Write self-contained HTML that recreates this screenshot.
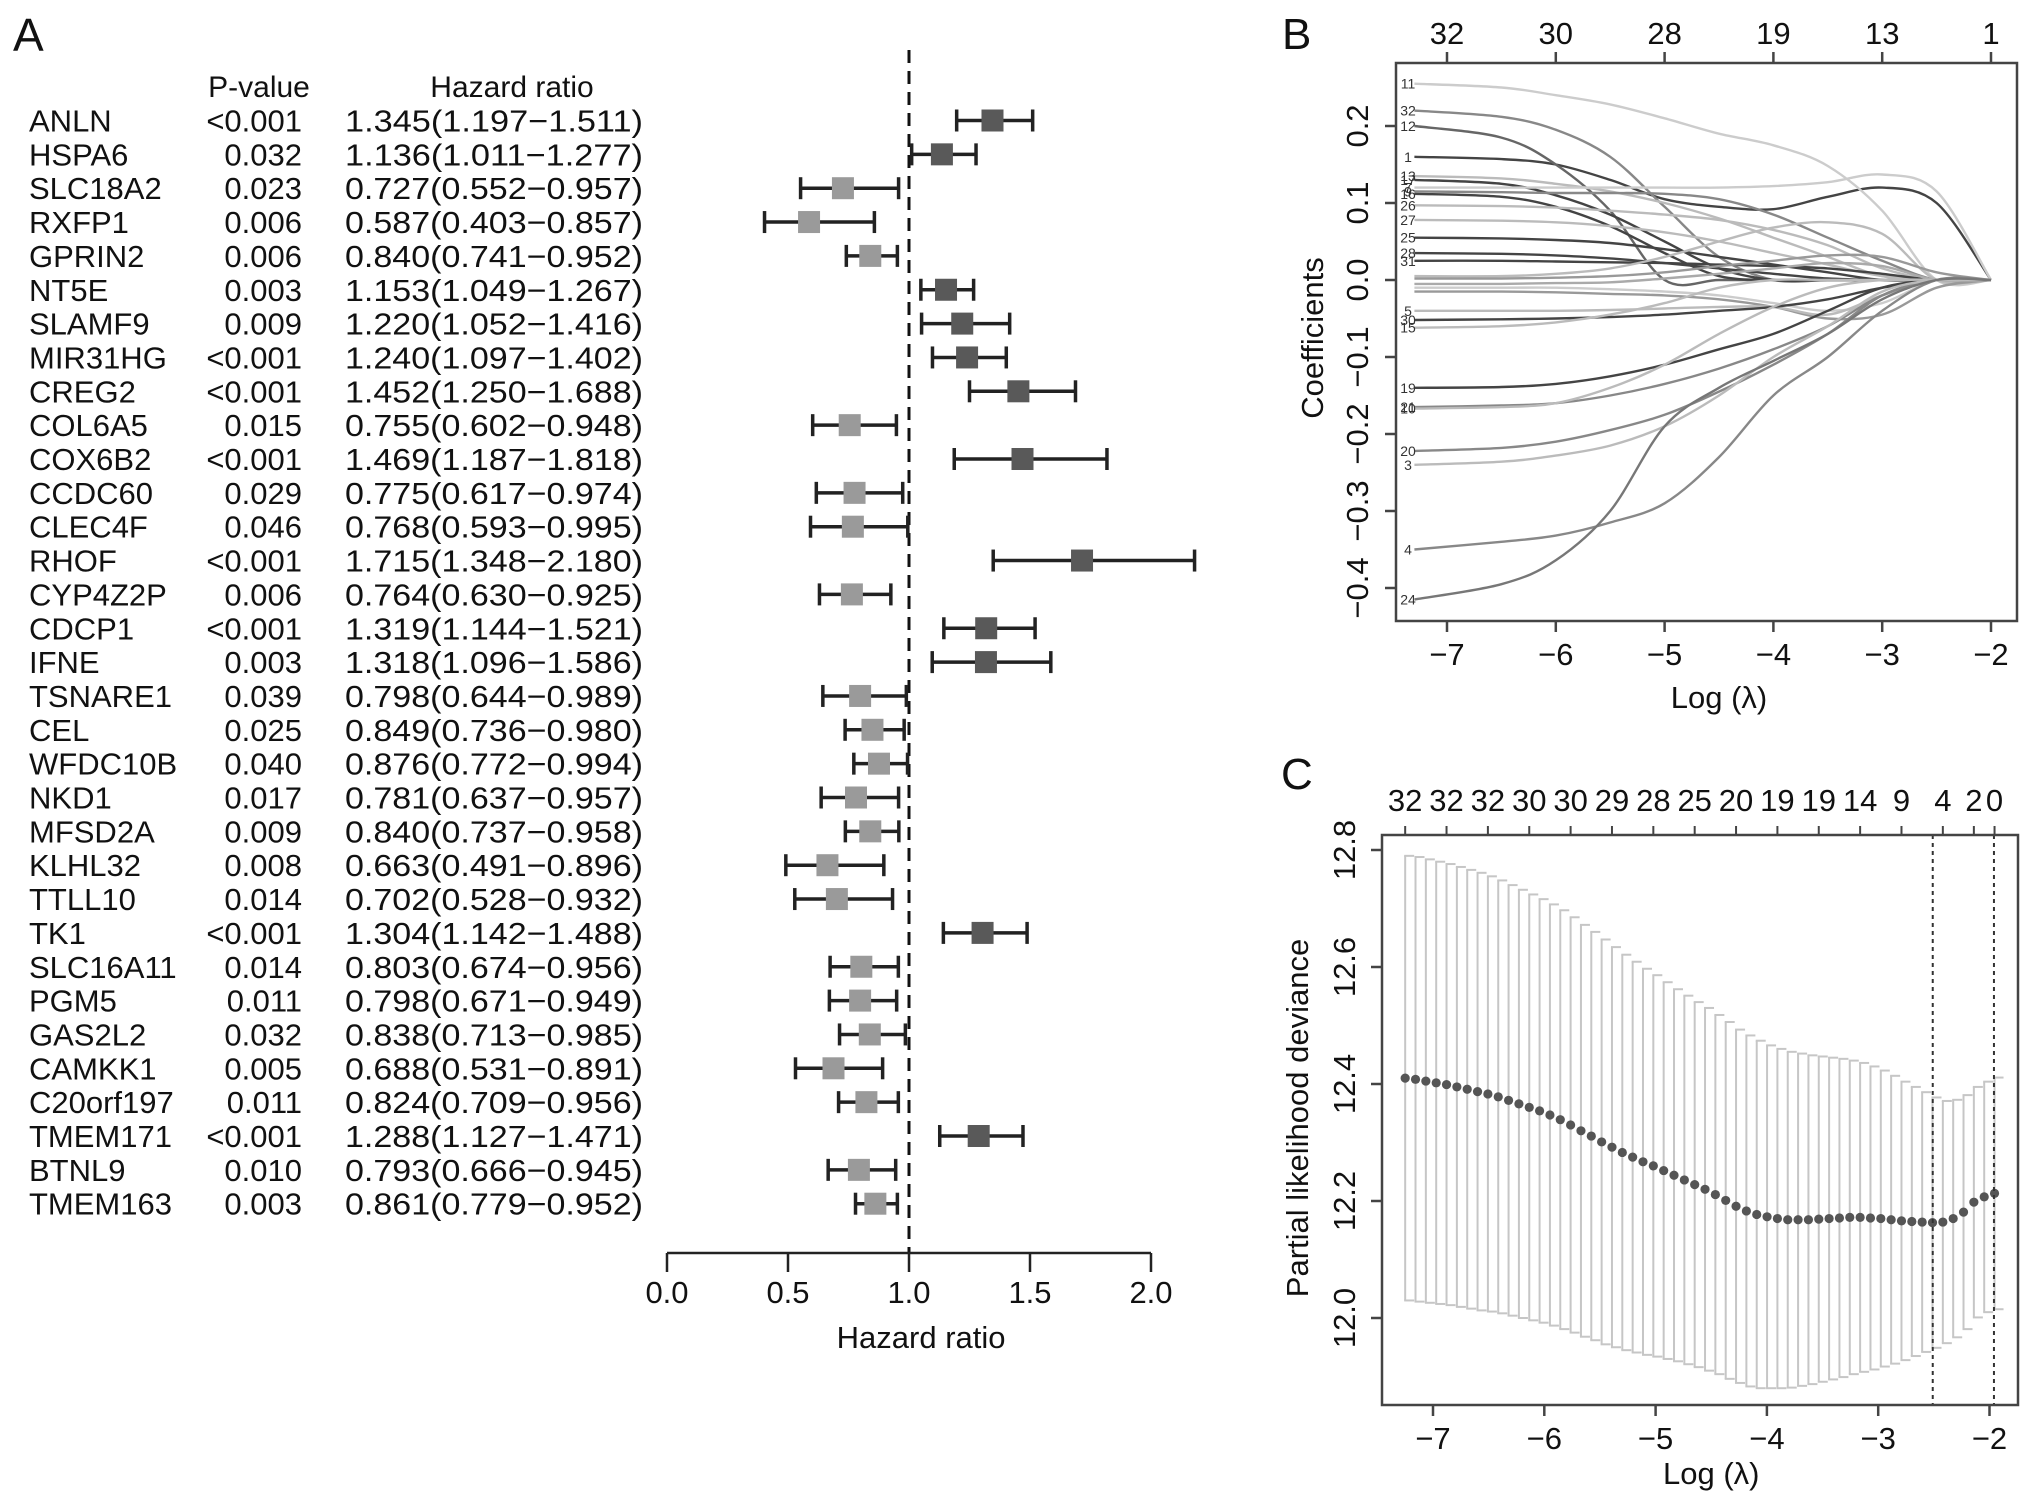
<!DOCTYPE html>
<html><head><meta charset="utf-8"><style>
html,body{margin:0;padding:0;background:#fff}
svg{display:block;font-family:"Liberation Sans",Arial,sans-serif}
</style></head><body>
<svg id="fig" width="2032" height="1501" viewBox="0 0 2032 1501" xmlns="http://www.w3.org/2000/svg">
<rect width="2032" height="1501" fill="#fff"/>
<g id="panelA"></g>
<g id="panelB"></g>
<g id="panelC"></g>
</svg>
<script>
// ---------- Panel A data ----------
const genes = ["ANLN","HSPA6","SLC18A2","RXFP1","GPRIN2","NT5E","SLAMF9","MIR31HG","CREG2","COL6A5","COX6B2","CCDC60","CLEC4F","RHOF","CYP4Z2P","CDCP1","IFNE","TSNARE1","CEL","WFDC10B","NKD1","MFSD2A","KLHL32","TTLL10","TK1","SLC16A11","PGM5","GAS2L2","CAMKK1","C20orf197","TMEM171","BTNL9","TMEM163"];
const pvals = ["<0.001","0.032","0.023","0.006","0.006","0.003","0.009","<0.001","<0.001","0.015","<0.001","0.029","0.046","<0.001","0.006","<0.001","0.003","0.039","0.025","0.040","0.017","0.009","0.008","0.014","<0.001","0.014","0.011","0.032","0.005","0.011","<0.001","0.010","0.003"];
const hr = [1.345,1.136,0.727,0.587,0.840,1.153,1.220,1.240,1.452,0.755,1.469,0.775,0.768,1.715,0.764,1.319,1.318,0.798,0.849,0.876,0.781,0.840,0.663,0.702,1.304,0.803,0.798,0.838,0.688,0.824,1.288,0.793,0.861];
const lo = [1.197,1.011,0.552,0.403,0.741,1.049,1.052,1.097,1.250,0.602,1.187,0.617,0.593,1.348,0.630,1.144,1.096,0.644,0.736,0.772,0.637,0.737,0.491,0.528,1.142,0.674,0.671,0.713,0.531,0.709,1.127,0.666,0.779];
const hi = [1.511,1.277,0.957,0.857,0.952,1.267,1.416,1.402,1.688,0.948,1.818,0.974,0.995,2.180,0.925,1.521,1.586,0.989,0.980,0.994,0.957,0.958,0.896,0.932,1.488,0.956,0.949,0.985,0.891,0.956,1.471,0.945,0.952];
const hrTicks = [0,0.5,1.0,1.5,2.0];

// ---------- Panel B data ----------
const bGrid = [-7.3,-6.5,-6,-5.5,-5,-4.5,-4,-3.5,-3,-2.5,-2];
const bLabels = ["1","11","32","12","13","17","7","9","16","26","27","25","28","31","","","","","","5","30","15","19","21","10","20","3","4","24"];
const bShades = ["#444","#ccc","#888","#666","#bbb","#444","#ccc","#888","#444","#bbb","#bbb","#444","#444","#444","#bbb","#999","#aaa","#ccc","#999","#bbb","#444","#bbb","#444","#888","#bbb","#888","#bbb","#888","#777"];
const b1=[0.160,0.157,0.150,0.130,0.105,0.095,0.092,0.108,0.120,0.100,0];
const b11=[0.255,0.250,0.240,0.228,0.210,0.190,0.175,0.148,0.090,0,0];
const b32=[0.220,0.212,0.195,0.160,0.095,0.030,0,0,0,0,0];
const b12=[0.200,0.185,0.150,0.090,0,0,0,0,0,0,0];
const b13=[0.135,0.132,0.125,0.115,0.100,0.080,0.055,0.030,0.005,0,0];
const b17=[0.130,0.125,0.110,0.085,0.050,0.015,0,0,0,0,0];
const b7=[0.120,0.120,0.120,0.120,0.120,0.120,0.122,0.127,0.137,0.115,0];
const b9=[0.115,0.114,0.113,0.113,0.112,0.105,0.085,0.055,0.025,0,0];
const b16=[0.112,0.108,0.095,0.070,0.035,0.005,0,0,0,0,0];
const b26=[0.097,0.096,0.094,0.090,0.085,0.078,0.065,0.045,0.015,0,0];
const b27=[0.078,0.077,0.075,0.070,0.062,0.050,0.035,0.020,0.005,0,0];
const b25=[0.055,0.054,0.052,0.048,0.040,0.030,0.020,0.010,0,0,0];
const b28=[0.035,0.034,0.032,0.028,0.022,0.015,0.008,0.002,0,0,0];
const b31=[0.025,0.025,0.024,0.023,0.022,0.020,0.018,0.015,0.008,0,0];
const bA=[0.005,0.005,0.008,0.015,0.030,0.050,0.068,0.075,0.060,0,0];
const bB=[0.002,0.002,0.003,0.005,0.010,0.018,0.025,0.032,0.030,0.010,0];
const bC=[-0.005,-0.005,-0.004,-0.003,0.002,0.008,0.015,0.022,0.018,0,0];
const bD=[-0.010,-0.010,-0.010,-0.012,-0.015,-0.020,-0.030,-0.040,-0.030,0,0];
const bE=[-0.015,-0.015,-0.016,-0.018,-0.020,-0.025,-0.035,-0.050,-0.045,-0.010,0];
const b5=[-0.040,-0.040,-0.040,-0.039,-0.037,-0.035,-0.035,-0.045,-0.020,0,0];
const b30=[-0.052,-0.051,-0.050,-0.048,-0.045,-0.040,-0.035,-0.025,-0.010,0,0];
const b15=[-0.062,-0.060,-0.055,-0.045,-0.030,-0.010,0,0,0,0,0];
const b19=[-0.140,-0.139,-0.135,-0.125,-0.110,-0.090,-0.070,-0.040,-0.010,0,0];
const b21=[-0.165,-0.163,-0.160,-0.150,-0.135,-0.115,-0.090,-0.060,-0.020,0,0];
const b10=[-0.167,-0.165,-0.160,-0.140,-0.110,-0.070,-0.035,-0.010,0,0,0];
const b20=[-0.222,-0.218,-0.210,-0.195,-0.175,-0.145,-0.110,-0.070,-0.020,0,0];
const b3=[-0.240,-0.236,-0.228,-0.215,-0.190,-0.150,-0.100,-0.060,-0.015,0,0];
const b4=[-0.350,-0.340,-0.332,-0.315,-0.290,-0.230,-0.150,-0.100,-0.040,0,0];
const b24=[-0.415,-0.395,-0.364,-0.300,-0.190,-0.140,-0.105,-0.070,-0.025,0,0];
const bSeries=[b1,b11,b32,b12,b13,b17,b7,b9,b16,b26,b27,b25,b28,b31,bA,bB,bC,bD,bE,b5,b30,b15,b19,b21,b10,b20,b3,b4,b24];
const bXTicks=[-7,-6,-5,-4,-3,-2];
const bTopLabels=["32","30","28","19","13","1"];
const bYTicks=[0.2,0.1,0.0,-0.1,-0.2,-0.3,-0.4];

// ---------- Panel C data ----------
const cLogLambda0 = -7.25, cStep = 0.0929;
const cMean=[12.410,12.408,12.405,12.402,12.399,12.395,12.391,12.387,12.383,12.378,12.372,12.366,12.360,12.354,12.347,12.339,12.330,12.320,12.311,12.301,12.292,12.283,12.275,12.267,12.260,12.252,12.244,12.236,12.228,12.220,12.211,12.201,12.191,12.183,12.177,12.173,12.170,12.168,12.168,12.168,12.169,12.170,12.171,12.172,12.172,12.171,12.170,12.168,12.166,12.165,12.164,12.163,12.164,12.170,12.181,12.198,12.207,12.213];
const cSd=[0.380,0.380,0.379,0.378,0.377,0.376,0.375,0.374,0.372,0.370,0.368,0.366,0.364,0.362,0.360,0.358,0.355,0.352,0.349,0.346,0.342,0.338,0.334,0.330,0.326,0.322,0.318,0.315,0.312,0.310,0.307,0.305,0.302,0.300,0.297,0.293,0.290,0.287,0.284,0.281,0.278,0.275,0.272,0.268,0.264,0.259,0.253,0.246,0.238,0.230,0.222,0.214,0.207,0.203,0.200,0.197,0.197,0.198];
const cTopIdx=[0,4,8,12,16,20,24,28,32,36,40,44,48,52,55,57];
const cTopLabels=["32","32","32","30","30","29","28","25","20","19","19","14","9","4","2","0"];
const cVlines=[-2.51,-1.96];
const cXTicks=[-7,-6,-5,-4,-3,-2];
const cYTicks=[12.0,12.2,12.4,12.6,12.8];

const NS="http://www.w3.org/2000/svg";
function mk(parent,tag,attrs,text){const e=document.createElementNS(NS,tag);for(const k in attrs)e.setAttribute(k,attrs[k]);if(text!==undefined)e.textContent=text;parent.appendChild(e);return e;}

// ================= Panel A =================
const A=document.getElementById('panelA');
const hx=v=>667+v*242;
const rowY=i=>120.5+i*33.85;
let t;
t=mk(A,'text',{x:13,y:51,'font-size':46,fill:'#111'},'A');


t=mk(A,'text',{x:259,y:97,'font-size':30,'text-anchor':'middle',fill:'#111'},'P-value');


t=mk(A,'text',{x:512,y:97,'font-size':30,'text-anchor':'middle',fill:'#111'},'Hazard ratio');


// dashed reference
t=mk(A,'line',{x1:hx(1),x2:hx(1),y1:50,y2:1253,stroke:'#111','stroke-width':3,'stroke-dasharray':'13,8'});


genes.forEach((g,i)=>{
  const y=rowY(i);
  let e=mk(A,'text',{x:29,y:y+11,'font-size':31,fill:'#111'},g);
  
  
  e=mk(A,'text',{x:302,y:y+11,'font-size':31,'text-anchor':'end',fill:'#111'},pvals[i]);
  
  
  e=mk(A,'text',{x:345,y:y+11,'font-size':31,fill:'#111',textLength:298,lengthAdjust:'spacingAndGlyphs'},hr[i].toFixed(3)+'('+lo[i].toFixed(3)+'\u2212'+hi[i].toFixed(3)+')');
  
  
  const g2=mk(A,'g',{});
  
  
  mk(g2,'line',{x1:hx(lo[i]),x2:hx(hi[i]),y1:y,y2:y,stroke:'#222','stroke-width':3.5});
  mk(g2,'line',{x1:hx(lo[i]),x2:hx(lo[i]),y1:y-11,y2:y+11,stroke:'#222','stroke-width':3.5});
  mk(g2,'line',{x1:hx(hi[i]),x2:hx(hi[i]),y1:y-11,y2:y+11,stroke:'#222','stroke-width':3.5});
  e=mk(g2,'rect',{x:hx(hr[i])-11,y:y-11,width:22,height:22,fill:hr[i]>1?'#595959':'#9a9a9a'});
  
  
});
t=mk(A,'line',{x1:hx(0),x2:hx(2),y1:1253,y2:1253,stroke:'#222','stroke-width':2.5});


hrTicks.forEach(v=>{
  mk(A,'line',{x1:hx(v),x2:hx(v),y1:1253,y2:1272,stroke:'#222','stroke-width':2.5});
  const e=mk(A,'text',{x:hx(v),y:1303,'font-size':31,'text-anchor':'middle',fill:'#111'},v.toFixed(1));
  
  
});
t=mk(A,'text',{x:hx(1.05),y:1348,'font-size':31,'text-anchor':'middle',fill:'#111'},'Hazard ratio');



// ================= Panel B =================
const B=document.getElementById('panelB');
const bx=v=>1447+(v+7)*108.8;
const by=v=>280-v*770;
t=mk(B,'text',{x:1282,y:49,'font-size':44,fill:'#111'},'B');


function smoothPath(xs,ys){
  let d='M'+xs[0].toFixed(1)+','+ys[0].toFixed(1);
  for(let i=0;i<xs.length-1;i++){
    const x0=xs[Math.max(i-1,0)],y0=ys[Math.max(i-1,0)],x1=xs[i],y1=ys[i],x2=xs[i+1],y2=ys[i+1],x3=xs[Math.min(i+2,xs.length-1)],y3=ys[Math.min(i+2,xs.length-1)];
    const c1x=x1+(x2-x0)/6,c1y=y1+(y2-y0)/6,c2x=x2-(x3-x1)/6,c2y=y2-(y3-y1)/6;
    d+=' C'+c1x.toFixed(1)+','+c1y.toFixed(1)+' '+c2x.toFixed(1)+','+c2y.toFixed(1)+' '+x2.toFixed(1)+','+y2.toFixed(1);
  }
  return d;
}
const bCurves=mk(B,'g',{});


bSeries.forEach((s,i)=>{
  const xs=bGrid.map(bx), ys=s.map(by);
  const p=mk(bCurves,'path',{d:smoothPath(xs,ys),fill:'none',stroke:bShades[i],'stroke-width':2.4});
  
  
  if(bLabels[i]){
    const e=mk(B,'text',{x:1408,y:by(s[0])+5,'font-size':14,'text-anchor':'middle',fill:'#333'},bLabels[i]);
    
    
  }
});
t=mk(B,'rect',{x:1396,y:63,width:621,height:558,fill:'none',stroke:'#444','stroke-width':2.5});


bXTicks.forEach((v,i)=>{
  mk(B,'line',{x1:bx(v),x2:bx(v),y1:621,y2:632,stroke:'#444','stroke-width':2.5});
  mk(B,'line',{x1:bx(v),x2:bx(v),y1:63,y2:52,stroke:'#444','stroke-width':2.5});
  let e=mk(B,'text',{x:bx(v),y:665,'font-size':31,'text-anchor':'middle',fill:'#111'},'\u2212'+Math.abs(v));
  
  
  e=mk(B,'text',{x:bx(v),y:44,'font-size':31,'text-anchor':'middle',fill:'#111'},bTopLabels[i]);
  
  
});
bYTicks.forEach(v=>{
  mk(B,'line',{x1:1396,x2:1385,y1:by(v),y2:by(v),stroke:'#444','stroke-width':2.5});
  const lab=(v<0?'\u2212':'')+Math.abs(v).toFixed(1);
  const e=mk(B,'text',{x:0,y:0,'font-size':31,'text-anchor':'middle',fill:'#111',transform:'translate(1368,'+by(v)+') rotate(-90)'},lab);
  
  
});
t=mk(B,'text',{x:0,y:0,'font-size':31,'text-anchor':'middle',fill:'#111',transform:'translate(1323,338) rotate(-90)'},'Coefficients');


t=mk(B,'text',{x:bx(-4.5),y:708,'font-size':31,'text-anchor':'middle',fill:'#111'},'Log (\u03bb)');



// ================= Panel C =================
const C=document.getElementById('panelC');
const cx=v=>1433+(v+7)*111.3;
const cy=v=>850+(12.8-v)*585;
t=mk(C,'text',{x:1281,y:789,'font-size':44,fill:'#111'},'C');


const bars=mk(C,'g',{});


cMean.forEach((m,k)=>{
  const x=cx(cLogLambda0+k*cStep), up=cy(m+cSd[k]), dn=cy(m-cSd[k]);
  mk(bars,'line',{x1:x,x2:x,y1:up,y2:dn,stroke:'#c6c6c6','stroke-width':2});
  mk(bars,'line',{x1:x-1,x2:x+9,y1:up,y2:up,stroke:'#c6c6c6','stroke-width':2});
  mk(bars,'line',{x1:x-1,x2:x+9,y1:dn,y2:dn,stroke:'#c6c6c6','stroke-width':2});
});
cMean.forEach((m,k)=>{
  const d=mk(C,'circle',{cx:cx(cLogLambda0+k*cStep),cy:cy(m),r:4.6,fill:'#555'});
  
  
});
cVlines.forEach(v=>{
  const l=mk(C,'line',{x1:cx(v),x2:cx(v),y1:835,y2:1405,stroke:'#333','stroke-width':2,'stroke-dasharray':'4,4'});
  
  
});
t=mk(C,'rect',{x:1382,y:835,width:636,height:570,fill:'none',stroke:'#444','stroke-width':2.5});


cXTicks.forEach(v=>{
  mk(C,'line',{x1:cx(v),x2:cx(v),y1:1405,y2:1416,stroke:'#444','stroke-width':2.5});
  const e=mk(C,'text',{x:cx(v),y:1449,'font-size':31,'text-anchor':'middle',fill:'#111'},'\u2212'+Math.abs(v));
  
  
});
cTopIdx.forEach((k,i)=>{
  const x=cx(cLogLambda0+k*cStep);
  mk(C,'line',{x1:x,x2:x,y1:835,y2:826,stroke:'#444','stroke-width':2});
  const e=mk(C,'text',{x:x,y:811,'font-size':31,'text-anchor':'middle',fill:'#111'},cTopLabels[i]);
  
  
});
cYTicks.forEach(v=>{
  mk(C,'line',{x1:1382,x2:1371,y1:cy(v),y2:cy(v),stroke:'#444','stroke-width':2.5});
  const e=mk(C,'text',{x:0,y:0,'font-size':31,'text-anchor':'middle',fill:'#111',transform:'translate(1355,'+cy(v)+') rotate(-90)'},v.toFixed(1));
  
  
});
t=mk(C,'text',{x:0,y:0,'font-size':31,'text-anchor':'middle',fill:'#111',transform:'translate(1308,1118) rotate(-90)'},'Partial likelihood deviance');


t=mk(C,'text',{x:cx(-4.5),y:1484,'font-size':31,'text-anchor':'middle',fill:'#111'},'Log (\u03bb)');


</script>
</body></html>
